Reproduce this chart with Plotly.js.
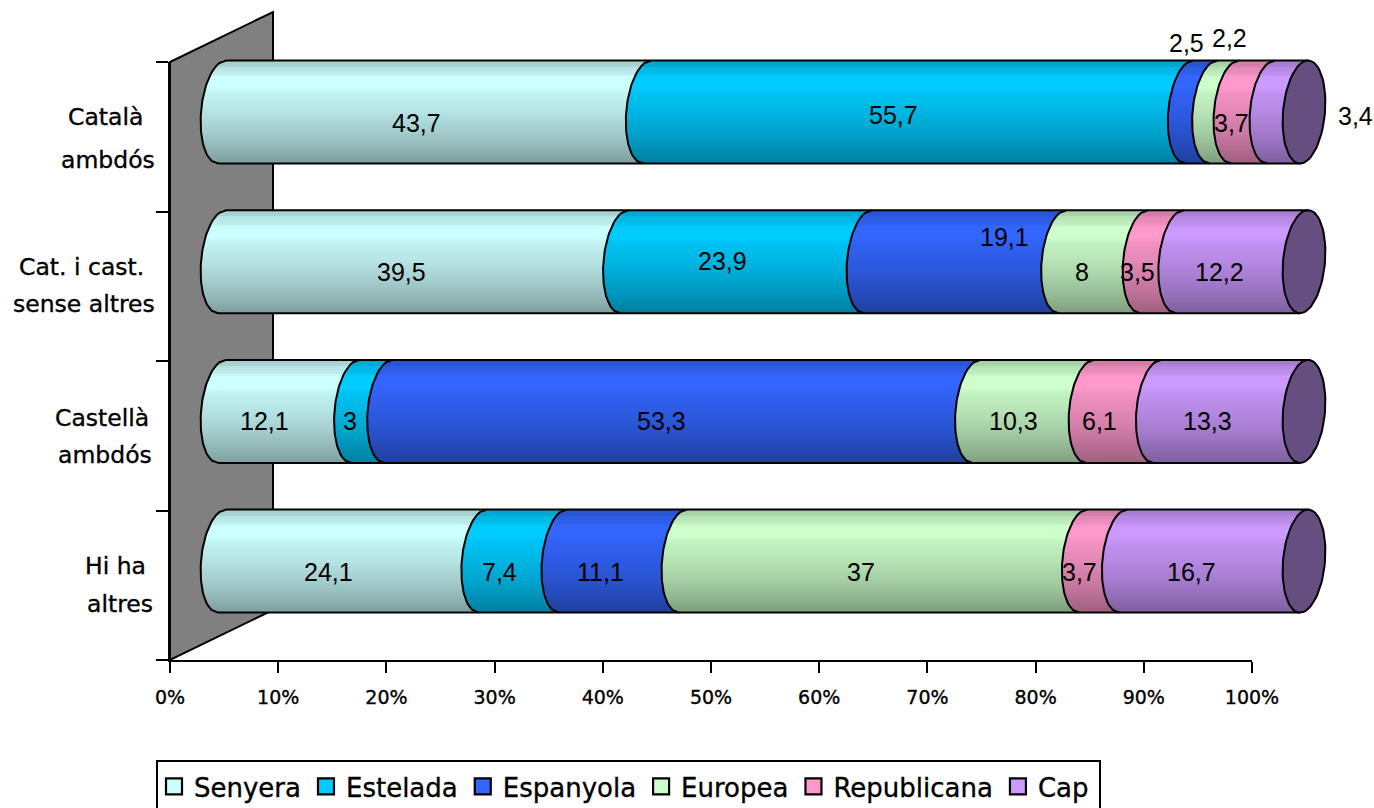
<!DOCTYPE html>
<html><head><meta charset="utf-8">
<script src="https://cdn.plot.ly/plotly-3.0.1.min.js"></script>
<style>html,body{margin:0;padding:0;background:#fff;overflow:hidden}
.legendtext,.xtick text,.heavy text{stroke:#000;stroke-width:.35px}</style>
</head><body><div id="chart" style="width:1374px;height:808px"></div>
<script>
// ---- data (top row first) ----
const seriesNames  = ['Senyera','Estelada','Espanyola','Europea','Republicana','Cap'];
const seriesColors = ['#CCFFFF','#00CCFF','#3366FF','#CCFFCC','#FF99CC','#CC99FF'];
const senyera     = [43.7,39.5,12.1,24.1];
const estelada    = [55.7,23.9,3,7.4];
const espanyola   = [2.5,19.1,53.3,11.1];
const europea     = [2.2,8,10.3,37];
const republicana = [3.7,3.5,6.1,3.7];
const cap         = [3.4,12.2,13.3,16.7];
const seriesValues = [senyera,estelada,espanyola,europea,republicana,cap];
const xTickVals = [0,10,20,30,40,50,60,70,80,90,100];
const xTickText = xTickVals.map(v=>v+'%');
const catLines = [['Català','ambdós'],['Cat. i cast.','sense altres'],['Castellà','ambdós'],['Hi ha','altres']];

// ---- label nudges, in pixels ----
const labelDx = [[-18,-25,-15,5,-21,68],[-22,-24,39,-21,-24,-22],[-24,-22,-21,-20,-24,-23],[-24,-23,-22,-22,-24,-22]];
const labelDy = [[11,3,-69,-74,11,4],[10,-1,-25,10,10,10],[10,10,10,10,10,10],[11,11,11,11,11,11]];
const catCx = [[105,108],[81,84],[102,105],[115,120]];
const catPy = [[117,160],[267,304],[418,455],[566,604]];

// ---- pixel frame ----
const W=1374,H=808;
const X0=222,X100=1304,rowStep=149.7,rowTop=112,halfPx=51.5,capA=21,capS=4;
const pxPerPct=(X100-X0)/100;
const x2range=[-X0/pxPerPct,(W-X0)/pxPerPct];
const y2range=[3.5-(H-rowTop)/rowStep,3.5+rowTop/rowStep];
const rowPos=r=>3.5-r, h=halfPx/rowStep;
const BANDS=50;
// brightness stops from top (0) to bottom (1) of the cylinder
const shadeStops=[[0,.8],[.06,.84],[.07,.89],[.13,.93],[.16,1],[.27,1],[.32,.95],[.5,.89],[.68,.81],[.84,.72],[1,.62]];
function shadeAt(t){for(let i=1;i<shadeStops.length;i++){if(t<=shadeStops[i][0]){const a=shadeStops[i-1],b=shadeStops[i];return a[1]+(b[1]-a[1])*(t-a[0])/(b[0]-a[0]);}}return .62;}
function shadeColor(hex,f){const n=parseInt(hex.slice(1),16);return 'rgb('+[(n>>16)&255,(n>>8)&255,n&255].map(c=>Math.round(c*f)).join(',')+')';}
const dxPct=v=>(-capA*Math.sqrt(Math.max(0,1-v*v))+capS*v)/pxPerPct;

const totals=senyera.map((_,r)=>seriesValues.reduce((s,a)=>s+a[r],0));
const cum=seriesValues.map((a,i)=>a.map((_,r)=>{let c=0;for(let k=0;k<i;k++)c+=seriesValues[k][r];return c/totals[r]*100;}));
const shares=seriesValues.map(a=>a.map((v,r)=>v/totals[r]*100));

const traces=[];
// anchor + legend entries on the visible axes
seriesNames.forEach((n,i)=>traces.push({type:'scatter',mode:'markers',name:n,x:[null],y:[null],xaxis:'x',yaxis:'y',
  marker:{symbol:'square',size:16,color:seriesColors[i],line:{color:'#000',width:2.2}},hoverinfo:'skip'}));

// shaded cylinder bands
seriesValues.forEach((vals,i)=>{
  const x=[],y=[],base=[],color=[],width=[];
  vals.forEach((_,r)=>{
    for(let b=0;b<BANDS;b++){
      const t=(b+.5)/BANDS,v=1-2*t;
      x.push(shares[i][r]);base.push(cum[i][r]+dxPct(v));
      y.push(rowPos(r)+v*h);width.push(2*h/BANDS*1.04);
      color.push(shadeColor(seriesColors[i],shadeAt(t)));
    }
  });
  traces.push({type:'bar',orientation:'h',x,y,base,width,marker:{color,line:{width:0}},xaxis:'x2',yaxis:'y2',showlegend:false,hoverinfo:'skip'});
});

// outlines: seams, top and bottom edges
const STEPS=40, lx=[],ly=[];
senyera.forEach((_,r)=>{
  const brk=cum.map(c=>c[r]);
  brk.forEach(c=>{
    for(let k=0;k<=STEPS;k++){const v=1-2*k/STEPS;lx.push(c+dxPct(v));ly.push(rowPos(r)+v*h);}
    lx.push(null);ly.push(null);
  });
  [1,-1].forEach(v=>{lx.push(dxPct(v),100+dxPct(v),null);ly.push(rowPos(r)+v*h,rowPos(r)+v*h,null);});
});
traces.push({type:'scatter',mode:'lines',x:lx,y:ly,line:{color:'#000',width:2},xaxis:'x2',yaxis:'y2',showlegend:false,hoverinfo:'skip'});

// dark end caps
senyera.forEach((_,r)=>{
  const ex=[],ey=[];
  for(let k=0;k<=72;k++){const a=k/72*2*Math.PI,v=Math.sin(a);
    ex.push(100+(capA*Math.cos(a)+capS*v)/pxPerPct);ey.push(rowPos(r)+v*h);}
  traces.push({type:'scatter',mode:'lines',x:ex,y:ey,fill:'toself',fillcolor:'#664E80',line:{color:'#000',width:2},xaxis:'x2',yaxis:'y2',showlegend:false,hoverinfo:'skip'});
});

// annotations
const annotations=[];
seriesValues.forEach((vals,i)=>vals.forEach((v,r)=>{
  annotations.push({xref:'x2',yref:'y2',x:cum[i][r]+shares[i][r]/2,y:rowPos(r),xshift:labelDx[r][i],yshift:-labelDy[r][i],
    text:String(v).replace('.',','),showarrow:false,xanchor:'center',yanchor:'middle',
    font:{family:'"Liberation Sans",Arial,sans-serif',size:25,color:'#000'}});
}));
const firstCat=annotations.length;
catLines.forEach((ls,r)=>ls.forEach((t,l)=>{
  annotations.push({xref:'paper',yref:'paper',x:catCx[r][l]/W,y:1-catPy[r][l]/H,text:t,showarrow:false,xanchor:'center',yanchor:'middle',
    font:{family:'"DejaVu Sans",sans-serif',size:23.5,color:'#000'}});
}));

const layout={
  width:W,height:H,autosize:false,margin:{l:0,r:0,t:0,b:0,autoexpand:false},
  paper_bgcolor:'#fff',plot_bgcolor:'rgba(0,0,0,0)',barmode:'overlay',bargap:0,
  showlegend:true,
  legend:{orientation:'h',x:154/W,xanchor:'left',y:1-763/H,yanchor:'top',bgcolor:'rgba(0,0,0,0)',borderwidth:0,
    font:{family:'"DejaVu Sans",sans-serif',size:26,color:'#000'},itemclick:false,itemdoubleclick:false},
  xaxis:{domain:[170/W,1252/W],range:[0,100],anchor:'y',tickmode:'array',tickvals:xTickVals,ticktext:xTickText,
    ticks:'outside',ticklen:11,tickwidth:2,tickcolor:'#000',showline:true,linecolor:'#000',linewidth:2,showgrid:false,zeroline:false,
    tickfont:{family:'"DejaVu Sans",sans-serif',size:19,color:'#000'},ticklabelstandoff:8,fixedrange:true},
  yaxis:{domain:[1-660/H,1-62/H],range:[0,4],anchor:'x',tickmode:'array',tickvals:[0,1,2,3,4],ticktext:['','','','',''],
    ticks:'outside',ticklen:12,tickwidth:2,tickcolor:'#000',showline:true,linecolor:'#000',linewidth:2,showgrid:false,zeroline:false,fixedrange:true},
  xaxis2:{domain:[0,1],range:x2range,anchor:'y2',visible:false,fixedrange:true},
  yaxis2:{domain:[0,1],range:y2range,anchor:'x2',visible:false,fixedrange:true},
  shapes:[
    {type:'path',xref:'paper',yref:'paper',layer:'below',path:`M${170/W},${1-62/H}L${273/W},${1-12/H}L${273/W},${1-610/H}L${170/W},${1-660/H}Z`,fillcolor:'#808080',line:{color:'#000',width:2}},
    {type:'rect',xref:'paper',yref:'paper',layer:'below',x0:157/W,x1:1100/W,y0:1-814/H,y1:1-761/H,fillcolor:'#fff',line:{color:'#000',width:2}}
  ],
  annotations
};
Plotly.newPlot('chart',traces,layout,{displayModeBar:false,staticPlot:true}).then(()=>{
  document.querySelectorAll('.annotation').forEach((el,i)=>{if(i>=firstCat)el.classList.add('heavy');});
});
</script></body></html>
